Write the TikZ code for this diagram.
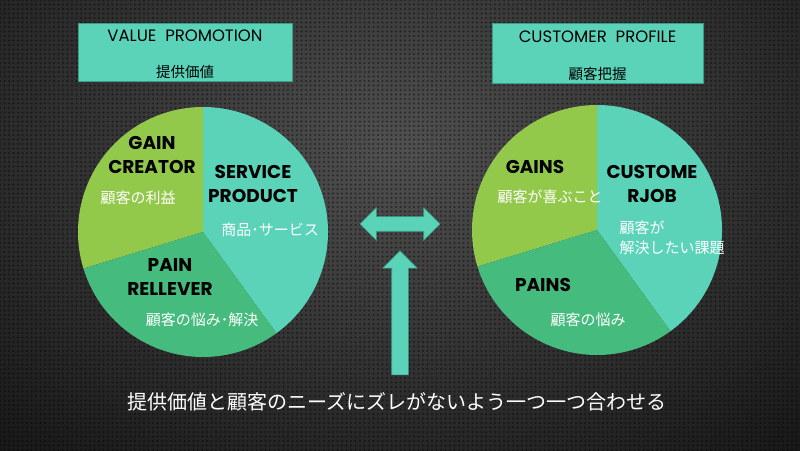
\documentclass[tikz,border=0pt]{standalone}
\usepackage{fontspec}
\setmainfont{Poppins}
\newfontfamily\jp{Noto Sans CJK JP}
\usetikzlibrary{shapes.arrows,patterns.meta}
\definecolor{teal1}{HTML}{5BD3B9}
\definecolor{lime1}{HTML}{93C94B}
\definecolor{green1}{HTML}{46BB7E}
\definecolor{boxedge}{HTML}{3A9E86}
\definecolor{bgin}{HTML}{505050}
\definecolor{bgout}{HTML}{181818}
\begin{document}
\begin{tikzpicture}[x=1pt,y=1pt,
  titlebox/.style={draw=boxedge, line width=1pt, fill=teal1, inner sep=0pt},
  titletxt/.style={font=\fontsize{16.5}{18}\selectfont, text=black},
  titlejp/.style={font=\jp\fontsize{14.5}{17}\selectfont, text=black},
  lab/.style={font=\fontsize{18.5}{24}\selectfont\bfseries, text=black, align=center},
  jlab/.style={font=\jp\fontsize{15}{20}\selectfont, text=white},
  arrowshape/.style={fill=teal1, draw=boxedge, line width=0.6pt}
]
\useasboundingbox (0,0) rectangle (800,450);
\begin{scope}
  \clip (0,0) rectangle (800,450);
  \shade[inner color=bgin, outer color=bgout] (-200,-100) rectangle (1000,700);
  \fill[pattern={Dots[distance=4.5pt, radius=1.1pt]}, pattern color=black, opacity=0.45] (0,0) rectangle (800,450);
\end{scope}

% title boxes
\node[titlebox, minimum width=214, minimum height=58] (vpbox) at (185,397) {};
\node[titletxt] (vptitle) at (185,414) {VALUE\ \ PROMOTION};
\node[titlejp] (vpjp) at (185,378) {提供価値};

\node[titlebox, minimum width=211, minimum height=60] (cpbox) at (597.5,396) {};
\node[titletxt] (cptitle) at (597.5,413) {CUSTOMER\ \ PROFILE};
\node[titlejp] (cpjp) at (597.5,376) {顧客把握};

% left pie
\coordinate (lc) at (203,218);
\fill[teal1] (lc) -- ++(-54:125) arc[start angle=-54, end angle=90, radius=125] -- cycle;
\fill[lime1] (lc) -- ++(90:125) arc[start angle=90, end angle=197, radius=125] -- cycle;
\fill[green1] (lc) -- ++(197:125) arc[start angle=197, end angle=306, radius=125] -- cycle;

\node[lab] (gc) at (152,295) {GAIN\\CREATOR};
\node[jlab] (gcjp) at (138,252) {顧客の利益};
\node[lab] (sp) at (253,266) {SERVICE\\PRODUCT};
\node[jlab] (spjp) at (270,220) {商品･サービス};
\node[lab] (pr) at (170,173) {PAIN\\RELLEVER};
\node[jlab] (prjp) at (202,130) {顧客の悩み･解決};

% right pie
\coordinate (rc) at (597,220);
\fill[teal1] (rc) -- ++(-54:125) arc[start angle=-54, end angle=90, radius=125] -- cycle;
\fill[lime1] (rc) -- ++(90:125) arc[start angle=90, end angle=197, radius=125] -- cycle;
\fill[green1] (rc) -- ++(197:125) arc[start angle=197, end angle=306, radius=125] -- cycle;

\node[lab] (gains) at (535,283) {GAINS};
\node[jlab] (gainsjp) at (550,253) {顧客が喜ぶこと};
\node[lab] (cj) at (652,266) {CUSTOME\\RJOB};
\node[jlab, align=left, anchor=west] (cjjp) at (616,212) {顧客が\\解決したい課題};
\node[lab] (pains) at (543,165) {PAINS};
\node[jlab] (painsjp) at (588,130) {顧客の悩み};

% arrows
\node[arrowshape, double arrow, inner sep=7pt, minimum height=80, minimum width=32,
  double arrow head extend=9pt, double arrow tip angle=90] (harrow) at (400,226) {};
\node[arrowshape, single arrow, rotate=90, inner sep=8pt, minimum height=124, minimum width=34,
  single arrow head extend=9pt, single arrow tip angle=90] (varrow) at (400,133) {};

% bottom text
\node[font=\jp\fontsize{20}{24}\selectfont, text=white] (bottom) at (397,48)
  {提供価値と顧客のニーズにズレがないよう一つ一つ合わせる};
\end{tikzpicture}
\end{document}
